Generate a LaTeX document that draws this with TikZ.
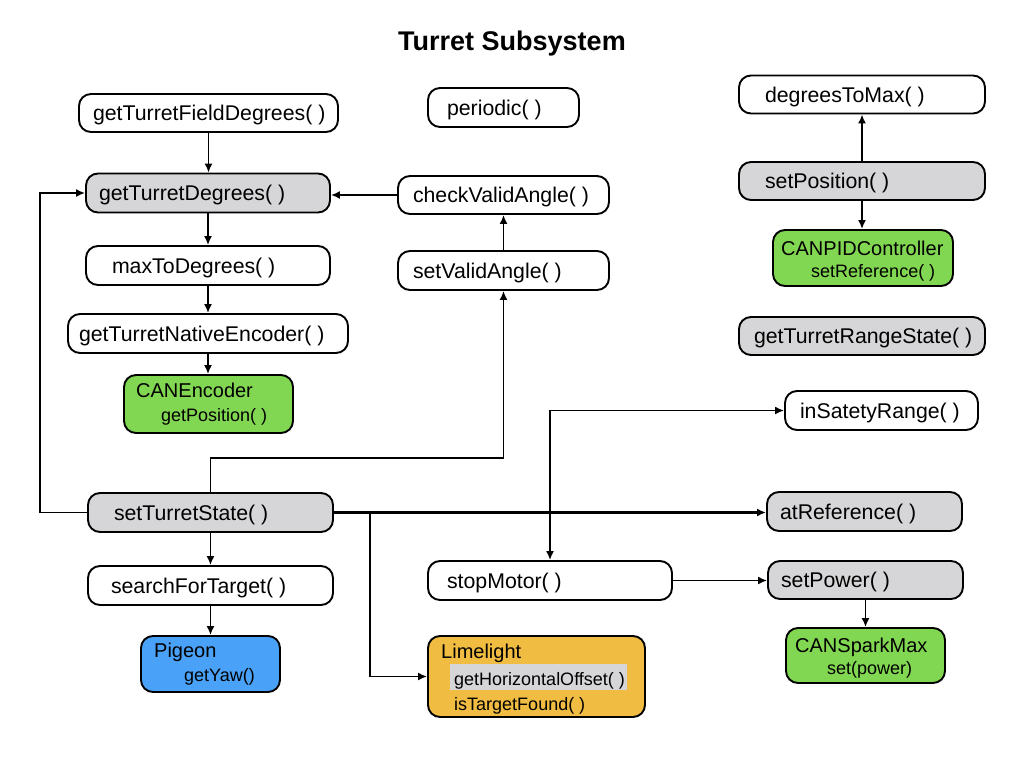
\documentclass[tikz,border=0pt]{standalone}
\usepackage{fontspec}
\setmainfont{Liberation Sans}
\usetikzlibrary{arrows.meta}
\definecolor{boxgray}{RGB}{214,213,215}
\definecolor{boxgreen}{RGB}{130,215,82}
\definecolor{boxblue}{RGB}{74,162,248}
\definecolor{boxorange}{RGB}{240,188,65}
\newcommand{\btxt}[3]{\makebox[#1pt][l]{\hspace*{#2pt}#3}}
\begin{document}
\begin{tikzpicture}[x=1pt,y=-1pt,
  box/.style={draw=black, line width=1.9pt, rounded corners=12pt, inner sep=0pt,
    text height=15pt, text depth=0pt,
    font=\fontsize{21.3}{25}\selectfont},
  graybox/.style={box, fill=boxgray},
  greenbox/.style={box, fill=boxgreen},
  bluebox/.style={box, fill=boxblue},
  orangebox/.style={box, fill=boxorange},
  big/.style={anchor=base west, inner sep=0pt, font=\fontsize{20}{24}\selectfont},
  small/.style={anchor=base west, inner sep=0pt, font=\fontsize{18}{22}\selectfont},
  conn/.style={line width=1.7pt, -{Latex[length=9pt,width=8pt]}},
  bconn/.style={line width=1.7pt, {Latex[length=9pt,width=8pt]}-{Latex[length=9pt,width=8pt]}}]
\fill[white] (0,0) rectangle (1024,768);
\useasboundingbox (0,0) rectangle (1024,768);

\node[font=\fontsize{27}{32}\selectfont\bfseries] (title) at (512,44) {Turret Subsystem};

% left column
\node[box, minimum width=259pt, minimum height=38pt] (fd) at (208.5,113) {\btxt{259}{14}{getTurretFieldDegrees( )}};
\node[graybox, minimum width=244pt, minimum height=39pt] (gtd) at (208,193) {\btxt{244}{13}{getTurretDegrees( )}};
\node[box, minimum width=244pt, minimum height=39pt] (m2d) at (208,265.5) {\btxt{244}{26}{maxToDegrees( )}};
\node[box, minimum width=280pt, minimum height=39pt] (gtne) at (208,333.5) {\btxt{280}{11}{getTurretNativeEncoder( )}};
\node[greenbox, minimum width=169pt, minimum height=58pt] (enc) at (208.5,404) {};
\node[big] (encA) at (136,397) {CANEncoder};
\node[small] (encB) at (161,421) {getPosition( )};

\node[graybox, minimum width=245pt, minimum height=39pt] (sts) at (210.5,512.5) {\btxt{245}{26}{setTurretState( )}};
\node[box, minimum width=245pt, minimum height=39pt] (sft) at (210.5,585.5) {\btxt{245}{23}{searchForTarget( )}};
\node[bluebox, minimum width=139pt, minimum height=56pt] (pig) at (210.5,664) {};
\node[big] (pigA) at (154,657) {Pigeon};
\node[small] (pigB) at (184,681) {getYaw()};

% middle column
\node[box, minimum width=151pt, minimum height=39pt] (per) at (503.5,107.5) {\btxt{151}{19}{periodic( )}};
\node[box, minimum width=211pt, minimum height=38pt] (cva) at (503.5,195) {\btxt{211}{15}{checkValidAngle( )}};
\node[box, minimum width=211pt, minimum height=39pt] (sva) at (503.5,270.5) {\btxt{211}{15}{setValidAngle( )}};
\node[box, minimum width=244pt, minimum height=39pt] (stop) at (550,580.5) {\btxt{244}{19}{stopMotor( )}};
\node[orangebox, minimum width=217pt, minimum height=81pt] (lime) at (536.5,676.5) {};
\fill[boxgray] (450,664) rectangle (627,690);
\node[big] (limeA) at (441,658) {Limelight};
\node[small] (limeB) at (454,685) {getHorizontalOffset( )};
\node[small] (limeC) at (454,710) {isTargetFound( )};

% right column
\node[box, minimum width=246pt, minimum height=38pt] (d2m) at (862,94.5) {\btxt{246}{26}{degreesToMax( )}};
\node[graybox, minimum width=246pt, minimum height=38pt] (spos) at (862,181) {\btxt{246}{26}{setPosition( )}};
\node[greenbox, minimum width=180pt, minimum height=56pt] (pid) at (863,258) {};
\node[big] (pidA) at (781,255) {CANPIDController};
\node[small] (pidB) at (811,277) {setReference( )};
\node[graybox, minimum width=246pt, minimum height=38pt] (grs) at (862,336) {\btxt{246}{15}{getTurretRangeState( )}};
\node[box, minimum width=193pt, minimum height=39pt] (isr) at (881.5,410.5) {\btxt{193}{15}{inSatetyRange( )}};
\node[graybox, minimum width=195pt, minimum height=39pt] (atr) at (864.5,511.5) {\btxt{195}{13}{atReference( )}};
\node[graybox, minimum width=195pt, minimum height=38pt] (spow) at (865.5,580) {\btxt{195}{13}{setPower( )}};
\node[greenbox, minimum width=159pt, minimum height=55pt] (spark) at (865.5,655.5) {};
\node[big] (sparkA) at (795,652) {CANSparkMax};
\node[small] (sparkB) at (827,674) {set(power)};

% connectors
\draw[conn] (fd.south) -- (fd.south |- gtd.north);
\draw[conn] (gtd.south) -- (gtd.south |- m2d.north);
\draw[conn] (m2d.south) -- (m2d.south |- gtne.north);
\draw[conn] (gtne.south) -- (gtne.south |- enc.north);
\draw[conn] (cva.west) -- (cva.west -| gtd.east);
\draw[conn] (sva.north) -- (cva.south);
\coordinate (up) at (210.5,458);
\draw[conn] (sts.north) -- (up) -| (sva.south);
\coordinate (lft) at (40,512.5);
\draw[conn] (sts.west) -- (lft) |- (gtd.west);
\draw[conn, line width=2.3pt] (sts.east) -- (sts.east -| atr.west);
\coordinate (br) at (370,512.5);
\draw[conn] (br) |- (lime.west);
\draw[conn] (sts.south) -- (sft.north);
\draw[conn] (sft.south) -- (pig.north);
\draw[bconn] (stop.north) |- (isr.west);
\draw[conn] (stop.east) -- (stop.east -| spow.west);
\draw[conn] (spow.south) -- (spark.north);
\draw[conn] (spos.north) -- (d2m.south);
\draw[conn] (spos.south) -- (spos.south |- pid.north);
\end{tikzpicture}
\end{document}
